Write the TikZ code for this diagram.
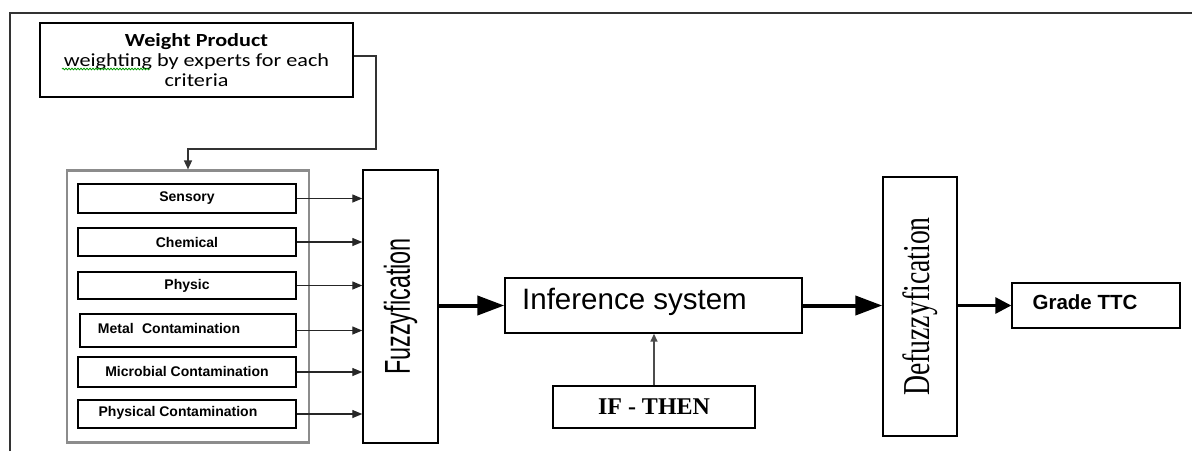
\documentclass[tikz,border=0pt]{standalone}
\usepackage{fontspec}
\usepackage{graphicx}
\setmainfont{Liberation Serif}
\setsansfont{Liberation Sans}
\newfontfamily\calibri{Carlito}
\usetikzlibrary{arrows.meta,decorations.pathmorphing}
\tikzset{
  box/.style={draw=black, line width=1.4pt, fill=white, inner sep=0pt, rectangle},
  critbox/.style={box, line width=1.3pt, font=\sffamily\bfseries\fontsize{14}{16}\selectfont},
  thin arrow/.style={draw=black!85, line width=1.3pt, -{Triangle[length=10pt,width=8pt]}},
  thick arrow/.style={draw=black, line width=4pt, -{Triangle[length=27pt,width=19pt]}},
  mid arrow/.style={draw=black, line width=3pt, -{Triangle[length=16pt,width=16pt]}},
}
\newcommand{\wide}[1]{\scalebox{1.2}[1]{#1}}
\begin{document}
\begin{tikzpicture}[x=1pt,y=-1pt]
\useasboundingbox (0,0) rectangle (1192,451);
% outer frame
\draw[line width=2pt, black!80] (10,451) -- (10,13) -- (1192,13);

% weight product box
\node[box, minimum width=313pt, minimum height=74pt, align=center,
      font=\calibri\fontsize{18.5}{20}\selectfont] (wp) at (196.5,60)
  {\wide{\textbf{Weight Product}}\\\wide{weighting by experts for each}\\\wide{criteria}};
\draw[green!60!black, line width=0.8pt, decoration={snake,amplitude=0.8pt,segment length=3pt}, decorate] (62,69) -- (150,69);

% group box
\node[draw=black!45, line width=2.2pt, minimum width=242pt, minimum height=272pt, inner sep=0pt] (grp) at (188,306.5) {};
\coordinate (c1) at (376,149);
\draw[line width=1.5pt, black!80, -{Triangle[length=9pt,width=8pt]}] ([yshift=4pt]wp.east) -| (c1) -| (grp.north);

% criteria
\node[critbox, minimum width=218pt, minimum height=29pt] (s1) at (187,198.5) {Sensory};
\node[critbox, minimum width=218pt, minimum height=28pt] (s2) at (187,242) {Chemical};
\node[critbox, minimum width=218pt, minimum height=27pt] (s3) at (187,285.5) {Physic};
\node[critbox, minimum width=216pt, minimum height=33pt,
      label={[font=\sffamily\bfseries\fontsize{14}{16}\selectfont, xshift=-19pt, yshift=2pt]center:Metal\hspace{0.6em}Contamination}] (s4) at (188,330.5) {};
\node[critbox, minimum width=218pt, minimum height=30pt] (s5) at (187,372) {\raisebox{2pt}{Microbial Contamination}};
\node[critbox, minimum width=218pt, minimum height=28pt,
      label={[font=\sffamily\bfseries\fontsize{14}{16}\selectfont, xshift=-9pt, yshift=1pt]center:Physical Contamination}] (s6) at (187,414) {};

% fuzzyfication
\node[box, minimum width=75pt, minimum height=273pt] (fz) at (400.5,306.5)
  {\rotatebox{90}{\scalebox{0.65}[1]{\sffamily\fontsize{36}{40}\selectfont Fuzzyfication}}};

\foreach \i in {1,...,6} {
  \draw[thin arrow] (s\i.east) -- (s\i.east -| fz.west);
}

% inference
\node[box, minimum width=297pt, minimum height=55pt,
      label={[font=\sffamily\fontsize{29.5}{31}\selectfont, xshift=-19pt, yshift=4pt]center:Inference system}] (inf) at (653.5,305.5) {};
\node[box, minimum width=202pt, minimum height=42pt,
      font=\rmfamily\bfseries\fontsize{24}{26}\selectfont] (ift) at (654,407) {IF - THEN};
\draw[line width=1.5pt, black!70, -{Triangle[length=8pt,width=7pt]}] (ift.north) -- (ift.north |- inf.south);

% defuzzyfication
\node[box, minimum width=74pt, minimum height=259pt] (dfz) at (920,306.5)
  {\rotatebox{90}{\scalebox{0.73}[1]{\rmfamily\fontsize{38}{40}\selectfont Defuzzyfication}}};

% grade
\node[box, minimum width=168pt, minimum height=45pt,
      label={[font=\sffamily\bfseries\fontsize{20.5}{22}\selectfont, xshift=-11pt, yshift=3pt]center:Grade TTC}] (gr) at (1096,305.5) {};

\draw[thick arrow] (fz.east |- inf.west) -- (inf.west);
\draw[thick arrow] (inf.east) -- (inf.east -| dfz.west);
\draw[mid arrow] (dfz.east |- gr.west) -- (gr.west);
\end{tikzpicture}
\end{document}
